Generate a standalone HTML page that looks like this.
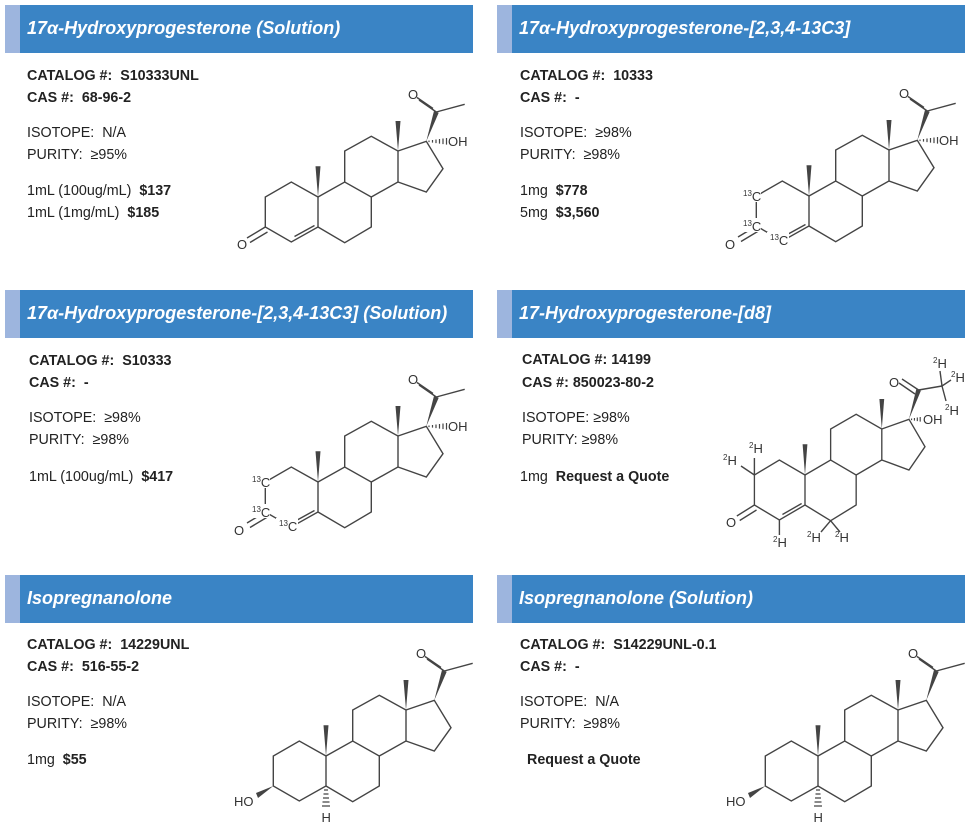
<!DOCTYPE html>
<html><head><meta charset="utf-8">
<style>
*{margin:0;padding:0;box-sizing:border-box}
body{width:973px;height:834px;background:#fff;position:relative;overflow:hidden;font-family:"Liberation Sans",Arial,sans-serif;color:#222}
.h{position:absolute;height:48px;width:468px;background:#3a84c5}
.h:before{content:"";position:absolute;left:0;top:0;width:15px;height:100%;background:#9db5de}
.h span{position:absolute;left:22px;top:13px;color:#fff;font-style:italic;font-weight:bold;font-size:18px;white-space:nowrap}
.t{position:absolute;font-size:14.3px;white-space:nowrap;line-height:16px}
b{font-weight:bold}
svg{position:absolute;left:0;top:0}
</style></head><body>
<div class="h" style="left:5px;top:5px"><span>17α-Hydroxyprogesterone (Solution)</span></div>
<div class="h" style="left:497px;top:5px"><span>17α-Hydroxyprogesterone-[2,3,4-13C3]</span></div>
<div class="h" style="left:5px;top:290px"><span>17α-Hydroxyprogesterone-[2,3,4-13C3] (Solution)</span></div>
<div class="h" style="left:497px;top:290px"><span>17-Hydroxyprogesterone-[d8]</span></div>
<div class="h" style="left:5px;top:575px"><span>Isopregnanolone</span></div>
<div class="h" style="left:497px;top:575px"><span>Isopregnanolone (Solution)</span></div>

<div class="t" style="left:27px;top:68px"><b>CATALOG #:&nbsp; S10333UNL</b></div>
<div class="t" style="left:27px;top:90px"><b>CAS #:&nbsp; 68-96-2</b></div>
<div class="t" style="left:27px;top:125px">ISOTOPE:&nbsp; N/A</div>
<div class="t" style="left:27px;top:147px">PURITY:&nbsp; ≥95%</div>
<div class="t" style="left:27px;top:183px">1mL (100ug/mL)&nbsp; <b>$137</b></div>
<div class="t" style="left:27px;top:205px">1mL (1mg/mL)&nbsp; <b>$185</b></div>

<div class="t" style="left:520px;top:68px"><b>CATALOG #:&nbsp; 10333</b></div>
<div class="t" style="left:520px;top:90px"><b>CAS #:&nbsp; -</b></div>
<div class="t" style="left:520px;top:125px">ISOTOPE:&nbsp; ≥98%</div>
<div class="t" style="left:520px;top:147px">PURITY:&nbsp; ≥98%</div>
<div class="t" style="left:520px;top:183px">1mg&nbsp; <b>$778</b></div>
<div class="t" style="left:520px;top:205px">5mg&nbsp; <b>$3,560</b></div>

<div class="t" style="left:29px;top:353px"><b>CATALOG #:&nbsp; S10333</b></div>
<div class="t" style="left:29px;top:375px"><b>CAS #:&nbsp; -</b></div>
<div class="t" style="left:29px;top:410px">ISOTOPE:&nbsp; ≥98%</div>
<div class="t" style="left:29px;top:432px">PURITY:&nbsp; ≥98%</div>
<div class="t" style="left:29px;top:469px">1mL (100ug/mL)&nbsp; <b>$417</b></div>

<div class="t" style="left:522px;top:352px"><b>CATALOG #: 14199</b></div>
<div class="t" style="left:522px;top:375px"><b>CAS #: 850023-80-2</b></div>
<div class="t" style="left:522px;top:410px">ISOTOPE: ≥98%</div>
<div class="t" style="left:522px;top:432px">PURITY: ≥98%</div>
<div class="t" style="left:520px;top:469px">1mg&nbsp; <b>Request a Quote</b></div>

<div class="t" style="left:27px;top:637px"><b>CATALOG #:&nbsp; 14229UNL</b></div>
<div class="t" style="left:27px;top:659px"><b>CAS #:&nbsp; 516-55-2</b></div>
<div class="t" style="left:27px;top:694px">ISOTOPE:&nbsp; N/A</div>
<div class="t" style="left:27px;top:716px">PURITY:&nbsp; ≥98%</div>
<div class="t" style="left:27px;top:752px">1mg&nbsp; <b>$55</b></div>

<div class="t" style="left:520px;top:637px"><b>CATALOG #:&nbsp; S14229UNL-0.1</b></div>
<div class="t" style="left:520px;top:659px"><b>CAS #:&nbsp; -</b></div>
<div class="t" style="left:520px;top:694px">ISOTOPE:&nbsp; N/A</div>
<div class="t" style="left:520px;top:716px">PURITY:&nbsp; ≥98%</div>
<div class="t" style="left:527px;top:752px"><b>Request a Quote</b></div>

<svg width="973" height="834" viewBox="0 0 973 834">
<defs>
<g id="sk" stroke="#444" stroke-width="1.4" fill="none">
<path d="M0,0 L-26.7,-15 L-52.7,0 L-52.7,30 L-26.7,45 L0,30 Z"/>
<path d="M0,30 L26.7,45.7 L53.3,30 L53.3,0 L26.7,-15 L0,0"/>
<path d="M26.7,-15 L26.7,-46 L53.3,-60.7 L80,-46 L80,-15 L53.3,0"/>
<path d="M80,-46 L108.3,-55.7 L125,-28.3 L108.3,-5 L80,-15"/>
<polygon fill="#444" stroke="none" points="80,-46 77.5,-76 82.5,-76"/>
<polygon fill="#444" stroke="none" points="0,0 -2.5,-30.7 2.5,-30.7"/>
<polygon fill="#444" stroke="none" points="108.3,-55.7 120.7,-84.2 115.9,-85.8"/>
</g>
<g id="ac" stroke="#444" stroke-width="1.4" fill="none">
<path d="M118.3,-85 L146.7,-92.7"/>
<path d="M118.3,-85 L101,-97 M115,-88.5 L99,-99.5"/>
</g>
<g id="keto" stroke="#444" stroke-width="1.4" fill="none">
<path d="M-23.5,39.5 L-3.5,28.5"/>
<path d="M-52.7,30 L-71,41 M-50.5,35 L-68,45.5"/>
</g>
<g id="oh" stroke="#444" stroke-width="1.2">
<path d="M111,-56.5 v1.6 M114.5,-57 v2.6 M118,-57.5 v3.6 M121.5,-58 v4.6 M125,-58.5 v5.6 M128.5,-59 v6.6"/>
</g>
<g id="ho" stroke="#444" stroke-width="1.2">
<polygon fill="#444" stroke="none" points="-52.7,30 -70,37 -68,42"/>
<path d="M-2,34 h4 M-2.5,38 h5 M-3,42 h6 M-3.5,46 h7 M-4,50 h8"/>
</g>
</defs>
<g font-family="Liberation Sans, Arial, sans-serif" font-size="13" fill="#333">
<!-- mol1 -->
<g transform="translate(318,197)">
<use href="#sk"/><use href="#ac"/><use href="#keto"/><use href="#oh"/>
<rect x="-82" y="40" width="10" height="12" fill="#fff"/>
<text x="-81" y="52">O</text>
<text x="90" y="-98">O</text>
<text x="130" y="-51">OH</text>
</g>
<!-- mol2 -->
<g transform="translate(809,196)">
<use href="#sk"/><use href="#ac"/><use href="#keto"/><use href="#oh"/>
<rect x="-70" y="-8" width="22" height="14" fill="#fff"/>
<rect x="-70" y="22" width="22" height="14" fill="#fff"/>
<rect x="-42" y="36" width="22" height="16" fill="#fff"/>
<rect x="-84" y="40" width="10" height="12" fill="#fff"/>
<text x="-66" y="5"><tspan font-size="8" dy="-5">13</tspan><tspan dy="5">C</tspan></text>
<text x="-66" y="35"><tspan font-size="8" dy="-5">13</tspan><tspan dy="5">C</tspan></text>
<text x="-39" y="49"><tspan font-size="8" dy="-5">13</tspan><tspan dy="5">C</tspan></text>
<text x="-84" y="53">O</text>
<text x="90" y="-98">O</text>
<text x="130" y="-51">OH</text>
</g>
<!-- mol3 -->
<g transform="translate(318,482)">
<use href="#sk"/><use href="#ac"/><use href="#keto"/><use href="#oh"/>
<rect x="-70" y="-8" width="22" height="14" fill="#fff"/>
<rect x="-70" y="22" width="22" height="14" fill="#fff"/>
<rect x="-42" y="36" width="22" height="16" fill="#fff"/>
<rect x="-84" y="40" width="10" height="12" fill="#fff"/>
<text x="-66" y="5"><tspan font-size="8" dy="-5">13</tspan><tspan dy="5">C</tspan></text>
<text x="-66" y="35"><tspan font-size="8" dy="-5">13</tspan><tspan dy="5">C</tspan></text>
<text x="-39" y="49"><tspan font-size="8" dy="-5">13</tspan><tspan dy="5">C</tspan></text>
<text x="-84" y="53">O</text>
<text x="90" y="-98">O</text>
<text x="130" y="-51">OH</text>
</g>
<!-- mol4 -->
<g transform="translate(805,475)">
<g transform="scale(0.96,1)">
<use href="#sk"/><use href="#keto"/>
<g stroke="#444" stroke-width="1.2">
<path d="M111,-56.5 v1.6 M114,-57 v2.6 M117,-57.5 v3.6 M120,-58 v4.6"/>
</g>
</g>
<g stroke="#444" stroke-width="1.4" fill="none">
<path d="M113.6,-85 L137,-89 M113.6,-85 L97,-96 M110,-81 L94,-92"/>
<path d="M-50.6,0 V-17 M-50.6,0 L-64,-9 M-25.6,45 V60 M25.6,45.7 L16,57 M25.6,45.7 L35,57 M137,-89 L135,-104 M137,-89 L146,-95 M137,-89 L141,-74"/>
</g>
<rect x="-80" y="40" width="10" height="12" fill="#fff"/>
<text x="-79" y="52">O</text>
<text x="-56" y="-22"><tspan font-size="8" dy="-5">2</tspan><tspan dy="5">H</tspan></text>
<text x="-82" y="-10"><tspan font-size="8" dy="-5">2</tspan><tspan dy="5">H</tspan></text>
<text x="-32" y="72"><tspan font-size="8" dy="-5">2</tspan><tspan dy="5">H</tspan></text>
<text x="2" y="67"><tspan font-size="8" dy="-5">2</tspan><tspan dy="5">H</tspan></text>
<text x="30" y="67"><tspan font-size="8" dy="-5">2</tspan><tspan dy="5">H</tspan></text>
<text x="128" y="-107"><tspan font-size="8" dy="-5">2</tspan><tspan dy="5">H</tspan></text>
<text x="146" y="-93"><tspan font-size="8" dy="-5">2</tspan><tspan dy="5">H</tspan></text>
<text x="140" y="-60"><tspan font-size="8" dy="-5">2</tspan><tspan dy="5">H</tspan></text>
<text x="84" y="-88">O</text>
<text x="118" y="-51">OH</text>
</g>
<!-- mol5 -->
<g transform="translate(326,756)">
<use href="#sk"/><use href="#ac"/><use href="#ho"/>
<text x="-92" y="50">HO</text>
<text x="-4.5" y="66">H</text>
<text x="90" y="-98">O</text>
</g>
<!-- mol6 -->
<g transform="translate(818,756)">
<use href="#sk"/><use href="#ac"/><use href="#ho"/>
<text x="-92" y="50">HO</text>
<text x="-4.5" y="66">H</text>
<text x="90" y="-98">O</text>
</g>
</g>
</svg>
</body></html>
